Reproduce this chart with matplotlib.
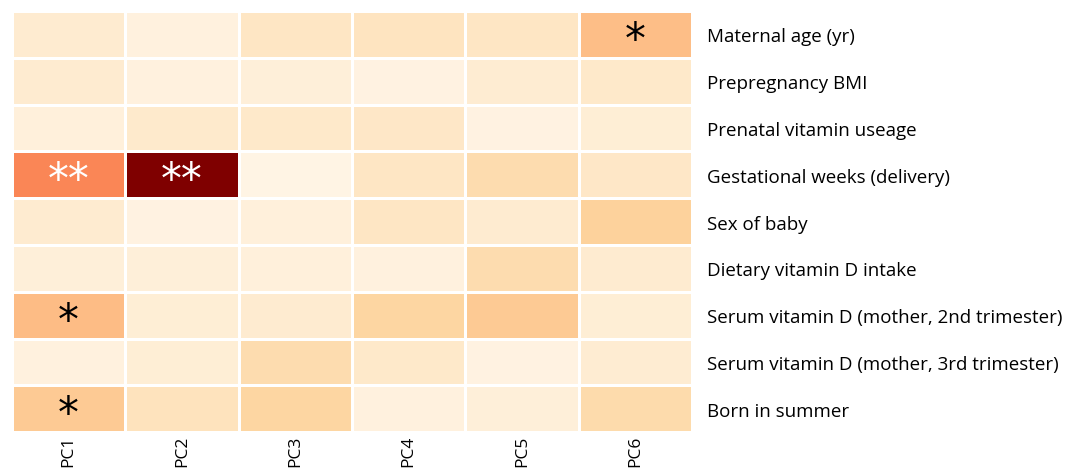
import numpy as np
import matplotlib.pyplot as plt

# variables (rows) and principal components (columns)
variables = ["Maternal age (yr)", "Prepregnancy BMI", "Prenatal vitamin useage",
             "Gestational weeks (delivery)", "Sex of baby", "Dietary vitamin D intake",
             "Serum vitamin D (mother, 2nd trimester)",
             "Serum vitamin D (mother, 3rd trimester)", "Born in summer"]
components = ["PC1", "PC2", "PC3", "PC4", "PC5", "PC6"]

# association strength (scaled 0-1)
maternal_age = [0.10, 0.05, 0.14, 0.15, 0.14, 0.36]
bmi = [0.10, 0.05, 0.07, 0.04, 0.09, 0.12]
prenatal_vit = [0.06, 0.11, 0.12, 0.13, 0.04, 0.08]
gestational = [0.52, 1.00, 0.03, 0.14, 0.20, 0.13]
sex_baby = [0.10, 0.04, 0.06, 0.14, 0.10, 0.26]
dietary_vitd = [0.07, 0.07, 0.06, 0.05, 0.20, 0.10]
serum_2nd = [0.37, 0.08, 0.10, 0.24, 0.30, 0.08]
serum_3rd = [0.05, 0.08, 0.20, 0.12, 0.04, 0.09]
born_summer = [0.30, 0.16, 0.24, 0.05, 0.07, 0.21]

# significance marks (row, col, label, colour)
stars = [(0, 5, "*", "black"), (3, 0, "**", "white"), (3, 1, "**", "white"),
         (6, 0, "*", "black"), (8, 0, "*", "black")]

data = np.array([maternal_age, bmi, prenatal_vit, gestational, sex_baby,
                 dietary_vitd, serum_2nd, serum_3rd, born_summer])

plt.rcParams['font.family'] = ['Open Sans', 'DejaVu Sans']

fig = plt.figure(figsize=(10.69, 4.77), dpi=100)
ax = fig.add_axes([0.0112, 0.092, 0.636, 0.883])

ax.pcolormesh(data, cmap='OrRd', vmin=0, vmax=1, edgecolors='white', linewidth=1.8)
ax.set_xlim(0, len(components))
ax.set_ylim(len(variables), 0)

for r, c, s, col in stars:
    ax.text(c + 0.5, r + 0.62, s, ha='center', va='center', fontsize=30,
            color=col, family='DejaVu Sans')

ax.yaxis.tick_right()
ax.set_yticks(np.arange(len(variables)) + 0.5)
ax.set_yticklabels(variables, fontsize=13.5)
ax.set_xticks(np.arange(len(components)) + 0.5)
ax.set_xticklabels(components, rotation=90, fontsize=12.5)
ax.tick_params(axis='y', length=0, pad=11)
ax.tick_params(axis='x', length=0, pad=2)
for sp in ax.spines.values():
    sp.set_visible(False)

plt.savefig("out.png", dpi=100)
